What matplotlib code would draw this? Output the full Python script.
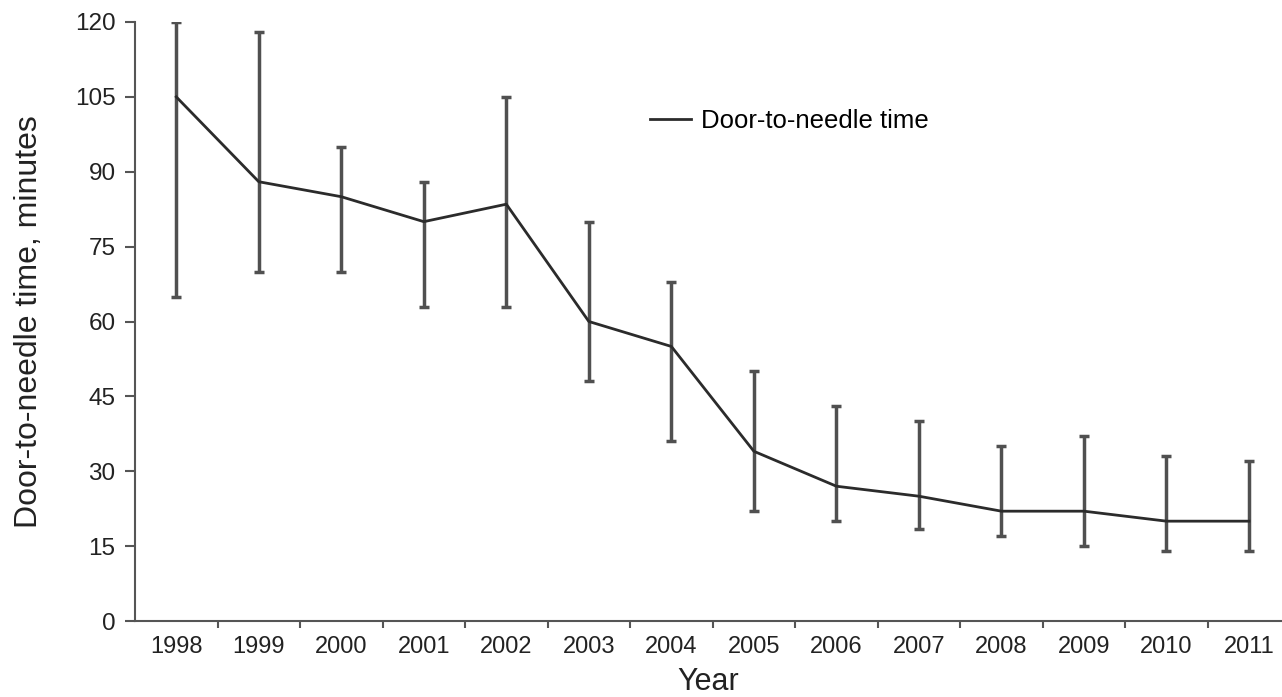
import matplotlib.pyplot as plt
import numpy as np

plt.rcParams['font.family'] = ['Liberation Sans', 'DejaVu Sans']

# Data
years = ['1998', '1999', '2000', '2001', '2002', '2003', '2004',
         '2005', '2006', '2007', '2008', '2009', '2010', '2011']
dtn_time = [105, 88, 85, 80, 83.5, 60, 55, 34, 27, 25, 22, 22, 20, 20]
err_high = [120, 118, 95, 88, 105, 80, 68, 50, 43, 40, 35, 37, 33, 32]
err_low = [65, 70, 70, 63, 63, 48, 36, 22, 20, 18.5, 17, 15, 14, 14]
y_ticks = [0, 15, 30, 45, 60, 75, 90, 105, 120]

x = np.arange(len(years))
mean = np.array(dtn_time)
lower = mean - np.array(err_low)
upper = np.array(err_high) - mean

fig = plt.figure(figsize=(12.82, 6.97), dpi=100)
ax = fig.add_axes([135 / 1282, 1 - 621 / 697, 1 - 135 / 1282, (621 - 22) / 697])

ax.errorbar(x, mean, yerr=[lower, upper], fmt='none', ecolor='#505050',
            elinewidth=2.5, capsize=3.5, capthick=2.5, zorder=2)
ax.plot(x, mean, color='#2b2b2b', lw=2, label='Door-to-needle time', zorder=3)

ax.set_xlim(-0.5, 13.4)
ax.set_ylim(0, 120)
ax.set_yticks(y_ticks)
ax.set_xticks(x)
ax.set_xticklabels(years)
ax.set_xticks(np.arange(0.5, 13, 1), minor=True)
ax.tick_params(axis='x', which='major', length=0, pad=11, labelsize=17, labelcolor='#222222')
ax.tick_params(axis='x', which='minor', length=5, width=1.5, color='#555555')
ax.tick_params(axis='y', length=7, width=1.5, color='#555555', pad=7,
               labelsize=17.5, labelcolor='#222222')

for s in ['top', 'right']:
    ax.spines[s].set_visible(False)
for s in ['left', 'bottom']:
    ax.spines[s].set_color('#555555')
    ax.spines[s].set_linewidth(1.5)

ax.set_xlabel('Year', fontsize=22, color='#222222', labelpad=6)
ax.set_ylabel('Door-to-needle time, minutes', fontsize=23, color='#222222', labelpad=22)

ax.legend(loc='center left', bbox_to_anchor=(0.449, 0.835), frameon=False,
          fontsize=18.5, borderpad=0, borderaxespad=0, handlelength=1.6,
          handletextpad=0.4)

fig.savefig('out.png', dpi=100)
